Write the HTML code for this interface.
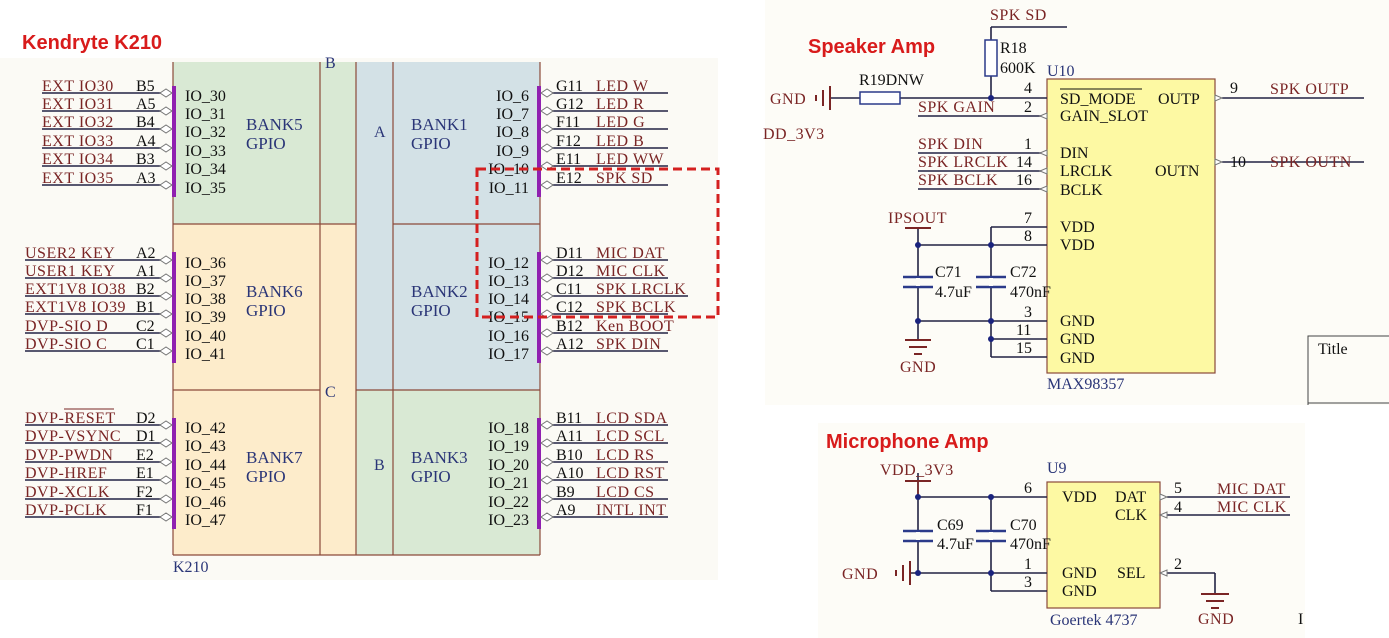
<!DOCTYPE html>
<html><head><meta charset="utf-8"><style>
html,body{margin:0;padding:0;background:#fff;width:1389px;height:638px;overflow:hidden}
svg{display:block}
.t{font-family:"Liberation Serif",serif;font-size:16px}
.n{fill:#7a2525;letter-spacing:0.5px}.k{fill:#111}.b{fill:#2a3577}
.bk{font-size:17px}
.h{font-family:"Liberation Sans",sans-serif;font-weight:bold;font-size:20px;fill:#d81b1b}
.w{stroke:#222244;stroke-width:1.6;fill:none}
.p{stroke:#9020b0;stroke-width:4}
.a{stroke:#777;stroke-width:1;fill:#fff}
.bx{stroke:#8b4a3a;stroke-width:1.2}
.j{fill:#1a237e}
</style></head><body>
<svg width="1389" height="638" viewBox="0 0 1389 638" xmlns="http://www.w3.org/2000/svg">
<rect x="0" y="58" width="718" height="522" fill="#fbfaf5"/>
<rect x="765" y="0" width="624" height="405" fill="#fdfcf7"/>
<rect x="818" y="423" width="487" height="215" fill="#fdfcf7"/>

<text x="22" y="49" class="h">Kendryte K210</text>
<text x="808" y="53" class="h">Speaker Amp</text>
<text x="826" y="448" class="h">Microphone Amp</text>

<rect x="173" y="62" width="147" height="162" fill="#d9e9d4"/>
<rect x="320" y="62" width="36" height="162" fill="#d9e9d4"/>
<rect x="173" y="224" width="147" height="331" fill="#fdeccb"/>
<rect x="320" y="224" width="36" height="331" fill="#fdeccb"/>
<rect x="356" y="62" width="37" height="328" fill="#d3e1e6"/>
<rect x="393" y="62" width="147" height="328" fill="#d3e1e6"/>
<rect x="356" y="390" width="37" height="165" fill="#d9e9d4"/>
<rect x="393" y="390" width="147" height="165" fill="#d9e9d4"/>
<g class="bx">
<line x1="173" y1="62" x2="173" y2="555"/><line x1="320" y1="62" x2="320" y2="555"/>
<line x1="356" y1="62" x2="356" y2="555"/><line x1="393" y1="62" x2="393" y2="555"/>
<line x1="540" y1="62" x2="540" y2="555"/><line x1="173" y1="555" x2="540" y2="555"/>
<line x1="173" y1="224" x2="356" y2="224"/><line x1="393" y1="224" x2="540" y2="224"/>
<line x1="173" y1="390" x2="320" y2="390"/><line x1="356" y1="390" x2="540" y2="390"/>
</g>
<text x="325" y="68" class="t b">B</text>
<text x="374" y="137" class="t b">A</text>
<text x="325" y="397" class="t b">C</text>
<text x="374" y="470" class="t b">B</text>
<g class="t b bk">
<text x="246" y="130">BANK5</text><text x="246" y="149">GPIO</text>
<text x="246" y="297">BANK6</text><text x="246" y="316">GPIO</text>
<text x="246" y="463">BANK7</text><text x="246" y="482">GPIO</text>
<text x="411" y="130">BANK1</text><text x="411" y="149">GPIO</text>
<text x="411" y="297">BANK2</text><text x="411" y="316">GPIO</text>
<text x="411" y="463">BANK3</text><text x="411" y="482">GPIO</text>
</g>
<text x="173" y="572" class="t b">K210</text>

<g class="p">
<line x1="174" y1="86" x2="174" y2="197"/><line x1="174" y1="252" x2="174" y2="363"/><line x1="174" y1="418" x2="174" y2="529"/>
<line x1="539" y1="86" x2="539" y2="197"/><line x1="539" y1="252" x2="539" y2="363"/><line x1="539" y1="418" x2="539" y2="529"/>
</g>

<g class="w">
<line x1="42" y1="93" x2="162" y2="93"/><line x1="42" y1="111" x2="162" y2="111"/><line x1="42" y1="129" x2="162" y2="129"/>
<line x1="42" y1="148" x2="162" y2="148"/><line x1="42" y1="166" x2="162" y2="166"/><line x1="42" y1="185" x2="162" y2="185"/>
<line x1="25" y1="260" x2="162" y2="260"/><line x1="25" y1="278" x2="162" y2="278"/><line x1="25" y1="296" x2="162" y2="296"/>
<line x1="25" y1="314" x2="162" y2="314"/><line x1="25" y1="333" x2="162" y2="333"/><line x1="25" y1="351" x2="162" y2="351"/>
<line x1="25" y1="425" x2="162" y2="425"/><line x1="25" y1="443" x2="162" y2="443"/><line x1="25" y1="462" x2="162" y2="462"/>
<line x1="25" y1="480" x2="162" y2="480"/><line x1="25" y1="499" x2="162" y2="499"/><line x1="25" y1="517" x2="162" y2="517"/>
<line x1="550" y1="93" x2="668" y2="93"/><line x1="550" y1="111" x2="668" y2="111"/><line x1="550" y1="129" x2="668" y2="129"/>
<line x1="550" y1="148" x2="668" y2="148"/><line x1="550" y1="166" x2="668" y2="166"/><line x1="550" y1="185" x2="668" y2="185"/>
<line x1="550" y1="260" x2="668" y2="260"/><line x1="550" y1="278" x2="668" y2="278"/><line x1="550" y1="296" x2="688" y2="296"/>
<line x1="550" y1="314" x2="668" y2="314"/><line x1="550" y1="333" x2="668" y2="333"/><line x1="550" y1="351" x2="668" y2="351"/>
<line x1="550" y1="425" x2="668" y2="425"/><line x1="550" y1="443" x2="668" y2="443"/><line x1="550" y1="462" x2="668" y2="462"/>
<line x1="550" y1="480" x2="668" y2="480"/><line x1="550" y1="499" x2="668" y2="499"/><line x1="550" y1="517" x2="668" y2="517"/>
</g>
<g class="a">
<path d="M160 93l6-4 6 4-6 4z M160 111l6-4 6 4-6 4z M160 129l6-4 6 4-6 4z M160 148l6-4 6 4-6 4z M160 166l6-4 6 4-6 4z M160 185l6-4 6 4-6 4z"/>
<path d="M160 260l6-4 6 4-6 4z M160 278l6-4 6 4-6 4z M160 296l6-4 6 4-6 4z M160 314l6-4 6 4-6 4z M160 333l6-4 6 4-6 4z M160 351l6-4 6 4-6 4z"/>
<path d="M160 425l6-4 6 4-6 4z M160 443l6-4 6 4-6 4z M160 462l6-4 6 4-6 4z M160 480l6-4 6 4-6 4z M160 499l6-4 6 4-6 4z M160 517l6-4 6 4-6 4z"/>
<path d="M541 93l6-4 6 4-6 4z M541 111l6-4 6 4-6 4z M541 129l6-4 6 4-6 4z M541 148l6-4 6 4-6 4z M541 166l6-4 6 4-6 4z M541 185l6-4 6 4-6 4z"/>
<path d="M541 260l6-4 6 4-6 4z M541 278l6-4 6 4-6 4z M541 296l6-4 6 4-6 4z M541 314l6-4 6 4-6 4z M541 333l6-4 6 4-6 4z M541 351l6-4 6 4-6 4z"/>
<path d="M541 425l6-4 6 4-6 4z M541 443l6-4 6 4-6 4z M541 462l6-4 6 4-6 4z M541 480l6-4 6 4-6 4z M541 499l6-4 6 4-6 4z M541 517l6-4 6 4-6 4z"/>
</g>

<g class="t n">
<text x="42" y="91">EXT IO30</text><text x="42" y="109">EXT IO31</text><text x="42" y="127">EXT IO32</text>
<text x="42" y="146">EXT IO33</text><text x="42" y="164">EXT IO34</text><text x="42" y="183">EXT IO35</text>
<text x="25" y="258">USER2 KEY</text><text x="25" y="276">USER1 KEY</text><text x="25" y="294">EXT1V8 IO38</text>
<text x="25" y="312">EXT1V8 IO39</text><text x="25" y="331">DVP-SIO D</text><text x="25" y="349">DVP-SIO C</text>
<text x="25" y="423">DVP-RESET</text><text x="25" y="441">DVP-VSYNC</text><text x="25" y="460">DVP-PWDN</text>
<text x="25" y="478">DVP-HREF</text><text x="25" y="497">DVP-XCLK</text><text x="25" y="515">DVP-PCLK</text>
<text x="596" y="91">LED W</text><text x="596" y="109">LED R</text><text x="596" y="127">LED G</text>
<text x="596" y="146">LED B</text><text x="596" y="164">LED WW</text><text x="596" y="183">SPK SD</text>
<text x="596" y="258">MIC DAT</text><text x="596" y="276">MIC CLK</text><text x="596" y="294">SPK LRCLK</text>
<text x="596" y="312">SPK BCLK</text><text x="596" y="331">Ken BOOT</text><text x="596" y="349">SPK DIN</text>
<text x="596" y="423">LCD SDA</text><text x="596" y="441">LCD SCL</text><text x="596" y="460">LCD RS</text>
<text x="596" y="478">LCD RST</text><text x="596" y="497">LCD CS</text><text x="596" y="515">INTL INT</text>
</g>
<line x1="64" y1="409" x2="114" y2="409" stroke="#7a2525" stroke-width="1"/>
<g class="t k">
<text x="136" y="91">B5</text><text x="136" y="109">A5</text><text x="136" y="127">B4</text><text x="136" y="146">A4</text><text x="136" y="164">B3</text><text x="136" y="183">A3</text>
<text x="136" y="258">A2</text><text x="136" y="276">A1</text><text x="136" y="294">B2</text><text x="136" y="312">B1</text><text x="136" y="331">C2</text><text x="136" y="349">C1</text>
<text x="136" y="423">D2</text><text x="136" y="441">D1</text><text x="136" y="460">E2</text><text x="136" y="478">E1</text><text x="136" y="497">F2</text><text x="136" y="515">F1</text>
<text x="556" y="91">G11</text><text x="556" y="109">G12</text><text x="556" y="127">F11</text><text x="556" y="146">F12</text><text x="556" y="164">E11</text><text x="556" y="183">E12</text>
<text x="556" y="258">D11</text><text x="556" y="276">D12</text><text x="556" y="294">C11</text><text x="556" y="312">C12</text><text x="556" y="331">B12</text><text x="556" y="349">A12</text>
<text x="556" y="423">B11</text><text x="556" y="441">A11</text><text x="556" y="460">B10</text><text x="556" y="478">A10</text><text x="556" y="497">B9</text><text x="556" y="515">A9</text>
<text x="185" y="101">IO_30</text><text x="185" y="119">IO_31</text><text x="185" y="137">IO_32</text><text x="185" y="156">IO_33</text><text x="185" y="174">IO_34</text><text x="185" y="193">IO_35</text>
<text x="185" y="268">IO_36</text><text x="185" y="286">IO_37</text><text x="185" y="304">IO_38</text><text x="185" y="322">IO_39</text><text x="185" y="341">IO_40</text><text x="185" y="359">IO_41</text>
<text x="185" y="433">IO_42</text><text x="185" y="451">IO_43</text><text x="185" y="470">IO_44</text><text x="185" y="488">IO_45</text><text x="185" y="507">IO_46</text><text x="185" y="525">IO_47</text>
</g>
<g class="t k" text-anchor="end">
<text x="529" y="101">IO_6</text><text x="529" y="119">IO_7</text><text x="529" y="137">IO_8</text><text x="529" y="156">IO_9</text><text x="529" y="174">IO_10</text><text x="529" y="193">IO_11</text>
<text x="529" y="268">IO_12</text><text x="529" y="286">IO_13</text><text x="529" y="304">IO_14</text><text x="529" y="322">IO_15</text><text x="529" y="341">IO_16</text><text x="529" y="359">IO_17</text>
<text x="529" y="433">IO_18</text><text x="529" y="451">IO_19</text><text x="529" y="470">IO_20</text><text x="529" y="488">IO_21</text><text x="529" y="507">IO_22</text><text x="529" y="525">IO_23</text>
</g>
<rect x="477" y="169" width="241" height="148" fill="none" stroke="#d42020" stroke-width="3" stroke-dasharray="9,5"/>

<rect x="1047" y="79" width="168" height="294" fill="#fdf9a3" class="bx"/>
<g class="w">
<line x1="991" y1="27" x2="1067" y2="27"/><line x1="991" y1="27" x2="991" y2="40"/><line x1="991" y1="76" x2="991" y2="98"/>
<line x1="830" y1="98" x2="860" y2="98"/><line x1="900" y1="98" x2="1047" y2="98"/>
<line x1="918" y1="116" x2="1047" y2="116"/><line x1="918" y1="153" x2="1047" y2="153"/>
<line x1="918" y1="171" x2="1047" y2="171"/><line x1="918" y1="189" x2="1047" y2="189"/>
<line x1="1222" y1="98" x2="1364" y2="98"/><line x1="1222" y1="162" x2="1364" y2="162"/>
<line x1="991" y1="227" x2="1047" y2="227"/><line x1="918" y1="245" x2="1047" y2="245"/>
<line x1="991" y1="227" x2="991" y2="357"/><line x1="918" y1="228" x2="918" y2="340"/>
<line x1="918" y1="321" x2="1047" y2="321"/><line x1="991" y1="339" x2="1047" y2="339"/><line x1="991" y1="357" x2="1047" y2="357"/>
<line x1="918" y1="473" x2="918" y2="591"/>
</g>
<rect x="985" y="40" width="12" height="36" fill="#fff" stroke="#2b3a8a" stroke-width="1.5"/>
<rect x="860" y="92" width="40" height="12" fill="#fff" stroke="#2b3a8a" stroke-width="1.5"/>
<g stroke="#7a2525" stroke-width="2"><line x1="830" y1="86" x2="830" y2="110"/><line x1="823" y1="90" x2="823" y2="106"/><line x1="816" y1="95" x2="816" y2="101"/>
<line x1="905" y1="228" x2="931" y2="228"/><line x1="905" y1="340" x2="931" y2="340"/><line x1="909" y1="347" x2="927" y2="347"/><line x1="914" y1="354" x2="922" y2="354"/></g>
<g stroke="#2b3a8a" stroke-width="2.5"><line x1="903" y1="277" x2="933" y2="277"/><line x1="903" y1="287" x2="933" y2="287"/><line x1="976" y1="277" x2="1006" y2="277"/><line x1="976" y1="287" x2="1006" y2="287"/></g>
<rect x="916" y="278" width="4" height="8" fill="#fdfcf7"/><rect x="989" y="278" width="4" height="8" fill="#fdfcf7"/>
<g class="j"><circle cx="991" cy="98" r="3"/><circle cx="918" cy="245" r="3"/><circle cx="991" cy="245" r="3"/><circle cx="918" cy="321" r="3"/><circle cx="991" cy="321" r="3"/><circle cx="991" cy="339" r="3"/></g>
<g class="a"><path d="M1040 116l7-3v6z M1040 153l7-3v6z M1040 171l7-3v6z M1040 189l7-3v6z M1215 95l7 3-7 3z M1215 159l7 3-7 3z"/></g>
<g class="t n">
<text x="990" y="20">SPK SD</text><text x="918" y="112">SPK GAIN</text><text x="918" y="149">SPK DIN</text>
<text x="918" y="167">SPK LRCLK</text><text x="918" y="185">SPK BCLK</text><text x="1270" y="94">SPK OUTP</text><text x="1270" y="167">SPK OUTN</text>
<text x="888" y="223">IPSOUT</text><text x="900" y="372">GND</text><text x="770" y="104">GND</text><text x="763" y="139">DD_3V3</text>
</g>
<g class="t k">
<text x="1000" y="53">R18</text><text x="1000" y="73">600K</text><text x="859" y="85">R19DNW</text>
<text x="1024" y="93">4</text><text x="1024" y="112">2</text><text x="1024" y="149">1</text><text x="1016" y="167">14</text><text x="1016" y="185">16</text>
<text x="1024" y="223">7</text><text x="1024" y="241">8</text><text x="1024" y="317">3</text><text x="1016" y="335">11</text><text x="1016" y="353">15</text>
<text x="1230" y="93">9</text><text x="1230" y="167">10</text>
<text x="1060" y="104">SD_MODE</text><text x="1060" y="121">GAIN_SLOT</text><text x="1060" y="158">DIN</text><text x="1060" y="176">LRCLK</text><text x="1060" y="195">BCLK</text>
<text x="1060" y="232">VDD</text><text x="1060" y="250">VDD</text><text x="1060" y="326">GND</text><text x="1060" y="344">GND</text><text x="1060" y="363">GND</text>
<text x="1158" y="104">OUTP</text><text x="1155" y="176">OUTN</text>
<text x="935" y="277">C71</text><text x="935" y="297">4.7uF</text><text x="1010" y="277">C72</text><text x="1010" y="297">470nF</text>
<text x="1318" y="354">Title</text>
</g>
<line x1="1060" y1="89" x2="1142" y2="89" stroke="#111" stroke-width="1"/>
<g class="t b"><text x="1047" y="76">U10</text><text x="1047" y="389">MAX98357</text></g>
<polyline points="1308,405 1308,336 1389,336" fill="none" stroke="#444" stroke-width="1"/>
<line x1="1308" y1="403" x2="1389" y2="403" stroke="#444"/>

<rect x="1047" y="482" width="113" height="126" fill="#fdf9a3" class="bx"/>
<g class="w">
<line x1="918" y1="497" x2="1047" y2="497"/><line x1="910" y1="573" x2="1047" y2="573"/>
<line x1="991" y1="497" x2="991" y2="591"/><line x1="991" y1="591" x2="1047" y2="591"/>
<line x1="1167" y1="497" x2="1290" y2="497"/><line x1="1167" y1="515" x2="1290" y2="515"/>
<line x1="1167" y1="573" x2="1215" y2="573"/><line x1="1215" y1="573" x2="1215" y2="593"/>
</g>
<rect x="916" y="574" width="4" height="20" fill="#fdfcf7"/>
<g stroke="#7a2525" stroke-width="2"><line x1="905" y1="481" x2="931" y2="481"/><line x1="910" y1="561" x2="910" y2="585"/><line x1="903" y1="565" x2="903" y2="581"/><line x1="896" y1="570" x2="896" y2="576"/>
<line x1="1201" y1="594" x2="1229" y2="594"/><line x1="1206" y1="601" x2="1224" y2="601"/><line x1="1211" y1="608" x2="1219" y2="608"/></g>
<line x1="918" y1="481" x2="918" y2="497" stroke="#7a2525" stroke-width="1.6"/>
<g stroke="#2b3a8a" stroke-width="2.5"><line x1="903" y1="531" x2="933" y2="531"/><line x1="903" y1="541" x2="933" y2="541"/><line x1="976" y1="531" x2="1006" y2="531"/><line x1="976" y1="541" x2="1006" y2="541"/></g>
<rect x="916" y="532" width="4" height="8" fill="#fdfcf7"/><rect x="989" y="532" width="4" height="8" fill="#fdfcf7"/>
<g class="j"><circle cx="918" cy="497" r="3"/><circle cx="991" cy="497" r="3"/><circle cx="918" cy="573" r="3"/><circle cx="991" cy="573" r="3"/></g>
<g class="a"><path d="M1160 494l7 3-7 3z M1160 515l7-3v6z M1160 573l7-3v6z"/></g>
<g class="t n">
<text x="880" y="475">VDD_3V3</text><text x="1217" y="494">MIC DAT</text><text x="1217" y="512">MIC CLK</text>
<text x="842" y="579">GND</text><text x="1198" y="624">GND</text>
</g>
<g class="t k">
<text x="1024" y="493">6</text><text x="1024" y="569">1</text><text x="1024" y="587">3</text>
<text x="1174" y="493">5</text><text x="1174" y="512">4</text><text x="1174" y="569">2</text>
<text x="1062" y="502">VDD</text><text x="1062" y="578">GND</text><text x="1062" y="596">GND</text>
<text x="1115" y="502">DAT</text><text x="1115" y="520">CLK</text><text x="1117" y="578">SEL</text>
<text x="937" y="530">C69</text><text x="937" y="549">4.7uF</text><text x="1010" y="530">C70</text><text x="1010" y="549">470nF</text>
<text x="1298" y="624">I</text>
</g>
<g class="t b"><text x="1047" y="473">U9</text><text x="1050" y="625">Goertek 4737</text></g>
</svg>
</body></html>
